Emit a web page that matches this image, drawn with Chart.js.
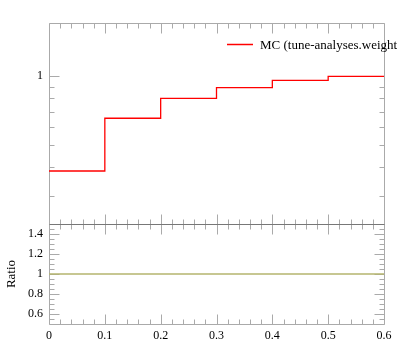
<!DOCTYPE html>
<html>
<head>
<meta charset="utf-8">
<script src="https://cdn.jsdelivr.net/npm/chart.js@4/dist/chart.umd.min.js"></script>
<style>
  html, body { margin: 0; padding: 0; background: #fff; }
  #wrap { position: relative; width: 397px; height: 358px; }
</style>
</head>
<body>
<div id="wrap"><canvas id="c" width="397" height="358"></canvas></div>
<script>
// bin edges and values
const binEdges = [0, 0.1, 0.2, 0.3, 0.4, 0.5, 0.6];
const mcValues = [0.386, 0.656, 0.801, 0.892, 0.960, 1.0];
const ratioValues = [1, 1, 1, 1, 1, 1];

// ticks
const xTicks = [0, 0.1, 0.2, 0.3, 0.4, 0.5, 0.6];
const xMinorStep = 0.02;
const mainTicks = [0.3, 0.4, 0.5, 0.6, 0.7, 0.8, 0.9, 1];
const mainLabelled = [1];
const ratioTicks = [0.6, 0.8, 1, 1.2, 1.4];
const ratioMinorStep = 0.05;

const legendLabel = "MC (tune-analyses.weights)";

const serif = "'Liberation Serif', 'DejaVu Serif', serif";
Chart.defaults.font.family = serif;
Chart.defaults.color = "#000";

// histogram -> step points (last edge repeats last value)
function stepPoints(vals) {
  return binEdges.map((x, i) => ({ x: x, y: vals[Math.min(i, vals.length - 1)] }));
}

function line(ctx, x1, y1, x2, y2) {
  ctx.beginPath();
  ctx.moveTo(x1, y1);
  ctx.lineTo(x2, y2);
  ctx.stroke();
}

const frameTicks = {
  id: "frameTicks",
  beforeDatasetsDraw(chart) {
    const { ctx, chartArea: a, scales } = chart;
    const x = scales.x, y = scales.y, yr = scales.yr;
    const L = Math.round(a.left) + 0.5, R = Math.round(a.right) + 0.5;
    const T = Math.round(y.top) + 0.5, S = Math.round(y.bottom) + 0.5;
    const B = Math.round(yr.bottom) + 0.5;
    ctx.save();
    ctx.lineWidth = 1;
    ctx.strokeStyle = "#aaa";

    // x ticks on both panels
    const n = Math.round((x.max - x.min) / xMinorStep);
    for (let i = 0; i <= n; i++) {
      const v = x.min + i * xMinorStep;
      const px = Math.round(x.getPixelForValue(v)) + 0.5;
      const len = i % 5 === 0 ? 10 : 5;
      line(ctx, px, T, px, T + len);
      line(ctx, px, S, px, S - len);
      line(ctx, px, S, px, S + len);
      line(ctx, px, B, px, B - len);
    }

    // main y ticks (log)
    mainTicks.forEach(v => {
      const py = Math.round(y.getPixelForValue(v)) + 0.5;
      const len = mainLabelled.includes(v) ? 10 : 5;
      line(ctx, L, py, L + len, py);
      line(ctx, R, py, R - len, py);
    });

    // ratio y ticks
    const m = Math.round((yr.max - yr.min) / ratioMinorStep);
    for (let i = 1; i < m; i++) {
      const v = yr.min + i * ratioMinorStep;
      const py = Math.round(yr.getPixelForValue(v)) + 0.5;
      const major = ratioTicks.some(t => Math.abs(t - v) < 1e-6);
      const len = major ? 10 : 5;
      line(ctx, L, py, L + len, py);
      line(ctx, R, py, R - len, py);
    }

    // frames
    line(ctx, L, T, R, T);
    line(ctx, L, T, L, B);
    line(ctx, R, T, R, B);
    line(ctx, L, B, R, B);
    ctx.strokeStyle = "#777";
    line(ctx, L, S, R, S);
    ctx.restore();
  },
  afterDraw(chart) {
    const { ctx, chartArea: a } = chart;
    const ds = chart.data.datasets[0];
    const lx = Math.round(a.right) - 157;
    const ly = 44.5;
    ctx.save();
    ctx.strokeStyle = ds.borderColor;
    ctx.lineWidth = 1.5;
    line(ctx, lx, ly, lx + 26, ly);
    ctx.fillStyle = "#000";
    ctx.font = "13px " + serif;
    ctx.textBaseline = "alphabetic";
    ctx.fillText(ds.label, lx + 33, 49);
    ctx.restore();
  }
};

new Chart(document.getElementById("c"), {
  type: "line",
  data: {
    datasets: [
      {
        label: legendLabel,
        data: stepPoints(mcValues),
        yAxisID: "y",
        borderColor: "#ff0000",
        borderWidth: 1.3,
        stepped: true,
        pointRadius: 0,
        fill: false
      },
      {
        label: "Ratio",
        data: stepPoints(ratioValues),
        yAxisID: "yr",
        borderColor: "#b5b56e",
        borderWidth: 1.3,
        stepped: true,
        pointRadius: 0,
        fill: false
      }
    ]
  },
  options: {
    responsive: false,
    animation: false,
    layout: { padding: { left: 0, right: 13, top: 23, bottom: 0 } },
    plugins: { legend: { display: false }, tooltip: { enabled: false } },
    scales: {
      x: {
        type: "linear",
        min: 0,
        max: 0.6,
        afterBuildTicks: s => { s.ticks = xTicks.map(v => ({ value: v })); },
        afterFit: s => { s.height = 34; },
        grid: { display: false, drawTicks: false },
        border: { display: false },
        ticks: {
          font: { family: serif, size: 12 },
          padding: 5,
          maxRotation: 0,
          autoSkip: false,
          callback: v => String(Math.round(v * 10) / 10)
        }
      },
      yr: {
        type: "linear",
        position: "left",
        stack: "panels",
        stackWeight: 100,
        min: 0.5,
        max: 1.5,
        afterBuildTicks: s => { s.ticks = ratioTicks.map(v => ({ value: v })); },
        afterFit: s => { s.width = 49; },
        grid: { display: false, drawTicks: false },
        border: { display: false },
        title: { display: true, text: "Ratio", font: { family: serif, size: 13 }, padding: { top: 4, bottom: 4 } },
        ticks: {
          font: { family: serif, size: 12 },
          padding: 6,
          autoSkip: false,
          callback: v => String(Math.round(v * 10) / 10)
        }
      },
      y: {
        type: "logarithmic",
        position: "left",
        stack: "panels",
        stackWeight: 201,
        min: 0.2265,
        max: 1.709,
        afterBuildTicks: s => { s.ticks = mainTicks.map(v => ({ value: v })); },
        afterFit: s => { s.width = 49; },
        grid: { display: false, drawTicks: false },
        border: { display: false },
        ticks: {
          font: { family: serif, size: 12 },
          padding: 6,
          autoSkip: false,
          callback: v => (mainLabelled.includes(v) ? String(v) : "")
        }
      }
    }
  },
  plugins: [frameTicks]
});
</script>
</body>
</html>
